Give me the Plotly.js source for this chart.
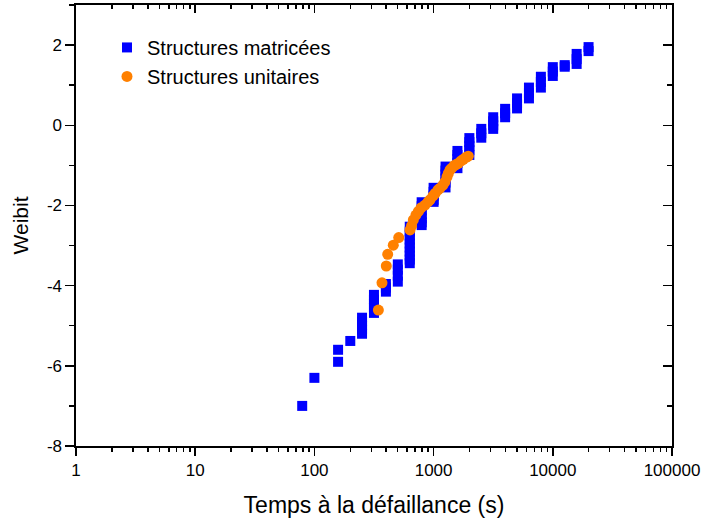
<!DOCTYPE html>
<html>
<head>
<meta charset="utf-8">
<script src="https://cdn.plot.ly/plotly-3.0.1.min.js"></script>
<style>html,body{margin:0;padding:0;background:#fff;}#chart{width:706px;height:522px;}</style>
</head>
<body>
<div id="chart"></div>
<script>
// Blue series (Structures matricées): failure times (s) and Weibit values, one entry per point
const matX = [
  79,
  100,
  158, 158,
  200,
  251, 251, 251, 251, 251,
  316, 316, 316, 316, 316,
  398, 398, 398,
  501, 501, 501, 501,
  631, 631, 631, 631, 631, 631, 631, 631, 631, 631,
  794, 794, 794, 794, 794, 794, 794,
  1000, 1000, 1000, 1000, 1000,
  1259, 1259, 1259, 1259, 1259, 1259,
  1585, 1585, 1585, 1585, 1585,
  1995, 1995, 1995, 1995, 1995,
  2512, 2512, 2512,
  3162, 3162, 3162, 3162,
  3981, 3981, 3981,
  5012, 5012, 5012,
  6310, 6310, 6310,
  7943, 7943, 7943,
  10000, 10000, 10000,
  12589, 12589,
  15849, 15849, 15849,
  19953, 19953
];
const matY = [
  -7.0,
  -6.3,
  -5.9, -5.6,
  -5.38,
  -4.8, -4.9, -5.0, -5.1, -5.2,
  -4.23, -4.35, -4.45, -4.55, -4.68,
  -3.96, -4.05, -4.15,
  -3.47, -3.6, -3.75, -3.9,
  -2.53, -2.65, -2.75, -2.85, -2.95, -3.05, -3.15, -3.25, -3.35, -3.44,
  -1.92, -2.02, -2.12, -2.22, -2.32, -2.42, -2.49,
  -1.56, -1.66, -1.76, -1.86, -1.91,
  -1.03, -1.13, -1.23, -1.33, -1.43, -1.55,
  -0.64, -0.74, -0.84, -0.94, -1.07,
  -0.32, -0.42, -0.52, -0.62, -0.74,
  -0.09, -0.2, -0.31,
  0.2, 0.1, 0.0, -0.09,
  0.41, 0.3, 0.2,
  0.67, 0.55, 0.42,
  0.94, 0.8, 0.67,
  1.21, 1.08, 0.94,
  1.45, 1.34, 1.23,
  1.5, 1.46,
  1.78, 1.65, 1.53,
  1.95, 1.85
];

// Orange series (Structures unitaires)
const uniX = [344, 369, 401, 412, 459, 510, 634, 653, 676, 711, 745, 784, 847, 898, 933, 989,
  1028, 1089, 1132, 1199, 1246, 1295, 1328, 1373, 1419, 1483, 1542, 1611, 1698, 1775, 1870, 1954];
const uniY = [-4.61, -3.93, -3.51, -3.22, -2.99, -2.80, -2.61, -2.51, -2.36, -2.24, -2.15, -2.06, -1.99, -1.91, -1.86, -1.76,
  -1.70, -1.61, -1.57, -1.49, -1.41, -1.29, -1.20, -1.11, -1.07, -1.01, -0.98, -0.95, -0.89, -0.85, -0.80, -0.77];

const seriesNames = ["Structures matricées", "Structures unitaires"];
const xTitle = "Temps à la défaillance (s)";
const yTitle = "Weibit";

// Tick labels
const xTickVals = [1, 10, 100, 1000, 10000, 100000];
const xTickText = ["1", "10", "100", "1000", "10000", "100000"];
const yTickVals = [-8, -6, -4, -2, 0, 2];
const yTickText = ["-8", "-6", "-4", "-2", "0", "2"];

const FONT = "Arial, 'Liberation Sans', sans-serif";

const traces = [
  {x: matX, y: matY, type: "scatter", mode: "markers", name: seriesNames[0],
   marker: {symbol: "square", size: 10, color: "#0000FF"}},
  {x: uniX, y: uniY, type: "scatter", mode: "markers", name: seriesNames[1],
   marker: {symbol: "circle", size: 11, color: "#FF8000"}},
  {x: [1], y: [0], xaxis: "x2", yaxis: "y2", type: "scatter", mode: "markers",
   marker: {opacity: 0}, showlegend: false, hoverinfo: "skip"}
];

const axLine = {showline: true, linecolor: "#000", linewidth: 1.6, showgrid: false, zeroline: false};

const layout = {
  width: 706, height: 522,
  margin: {l: 76, r: 34, t: 5, b: 76},
  paper_bgcolor: "#fff", plot_bgcolor: "#fff",
  font: {family: FONT, color: "#000"},
  showlegend: true,
  legend: {x: 0.052, y: 0.948, xanchor: "left", yanchor: "top", bgcolor: "rgba(0,0,0,0)",
           font: {size: 20, family: FONT}},
  xaxis: Object.assign({}, axLine, {
    type: "log", range: [0, 5], tickmode: "array", tickvals: xTickVals, ticktext: xTickText,
    ticks: "outside", ticklen: 8, tickwidth: 1.5, tickcolor: "#000",
    minor: {dtick: "D1", ticks: "outside", ticklen: 4, tickwidth: 1.5, tickcolor: "#000", showgrid: false},
    tickfont: {size: 17},
    title: {text: xTitle, font: {size: 23}, standoff: 18}
  }),
  yaxis: Object.assign({}, axLine, {
    range: [-8, 3], tickmode: "array", tickvals: yTickVals, ticktext: yTickText,
    ticks: "outside", ticklen: 9, tickwidth: 1.5, tickcolor: "#000",
    minor: {dtick: 1, ticks: "outside", ticklen: 5, tickwidth: 1.5, tickcolor: "#000", showgrid: false},
    tickfont: {size: 17},
    title: {text: yTitle, font: {size: 21}, standoff: 12}
  }),
  xaxis2: Object.assign({}, axLine, {
    type: "log", range: [0, 5], dtick: 1, overlaying: "x", side: "top",
    ticks: "inside", ticklen: 8, tickwidth: 1.5, tickcolor: "#000", showticklabels: false,
    minor: {dtick: "D1", ticks: "inside", ticklen: 4, tickwidth: 1.5, tickcolor: "#000", showgrid: false}
  }),
  yaxis2: Object.assign({}, axLine, {
    range: [-8, 3], dtick: 2, tick0: 0, overlaying: "y", side: "right",
    ticks: "inside", ticklen: 9, tickwidth: 1.5, tickcolor: "#000", showticklabels: false,
    minor: {dtick: 1, ticks: "inside", ticklen: 5, tickwidth: 1.5, tickcolor: "#000", showgrid: false}
  })
};

Plotly.newPlot("chart", traces, layout, {displayModeBar: false, staticPlot: true});
</script>
</body>
</html>
